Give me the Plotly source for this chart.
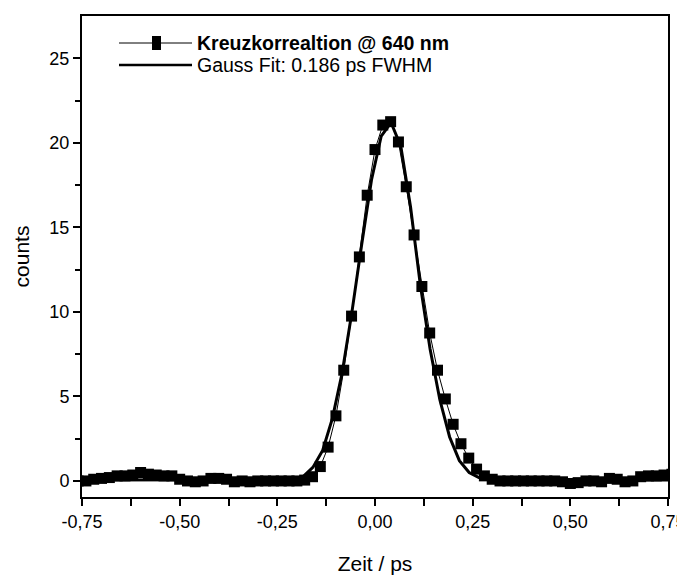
import plotly.graph_objects as go

# ---------------- data ----------------
x_data = [-0.76, -0.74, -0.72, -0.70, -0.68, -0.66, -0.64, -0.62, -0.60, -0.58,
          -0.56, -0.54, -0.52, -0.50, -0.48, -0.46, -0.44, -0.42, -0.40, -0.38,
          -0.36, -0.34, -0.32, -0.30, -0.28, -0.26, -0.24, -0.22, -0.20, -0.18,
          -0.16, -0.14, -0.12, -0.10, -0.08, -0.06, -0.04, -0.02, 0.00, 0.02,
          0.04, 0.06, 0.08, 0.10, 0.12, 0.14, 0.16, 0.18, 0.20, 0.22,
          0.24, 0.26, 0.28, 0.30, 0.32, 0.34, 0.36, 0.38, 0.40, 0.42,
          0.44, 0.46, 0.48, 0.50, 0.52, 0.54, 0.56, 0.58, 0.60, 0.62,
          0.64, 0.66, 0.68, 0.70, 0.72, 0.74, 0.76]
y_data = [0.0, 0.0, 0.1, 0.15, 0.2, 0.3, 0.3, 0.35, 0.5, 0.4,
          0.35, 0.3, 0.3, 0.1, 0.0, -0.05, 0.0, 0.15, 0.15, 0.1,
          -0.05, 0.0, -0.05, 0.0, 0.0, 0.0, 0.0, 0.0, 0.0, 0.05,
          0.25, 0.85, 2.0, 3.85, 6.55, 9.75, 13.25, 16.9, 19.6, 21.05,
          21.25, 20.05, 17.4, 14.55, 11.5, 8.75, 6.55, 4.85, 3.35, 2.2,
          1.35, 0.7, 0.3, 0.1, 0.0, 0.0, 0.0, 0.0, 0.0, 0.0,
          0.0, 0.0, -0.05, -0.15, -0.1, 0.0, 0.0, -0.05, 0.15, 0.1,
          -0.05, 0.0, 0.25, 0.3, 0.3, 0.35, 0.4]

x_fit = [-0.76, -0.209, -0.184, -0.159, -0.134, -0.109, -0.084, -0.059, -0.034, -0.009,
         0.016, 0.041, 0.066, 0.091, 0.116, 0.141, 0.166, 0.191, 0.216, 0.241,
         0.266, 0.291, 0.76]
y_fit = [0.05, 0.08, 0.25, 0.8, 1.8, 3.7, 6.4, 10.0, 14.0, 17.8,
         20.4, 21.2, 19.8, 16.2, 11.6, 7.8, 4.8, 2.6, 1.2, 0.5,
         0.2, 0.08, 0.05]

x_tickvals = [-0.75, -0.50, -0.25, 0.00, 0.25, 0.50, 0.75]
x_ticktext = ["-0,75", "-0,50", "-0,25", "0,00", "0,25", "0,50", "0,75"]
x_minor = [-0.625, -0.375, -0.125, 0.125, 0.375, 0.625]
x_all = [-0.75, -0.625, -0.50, -0.375, -0.25, -0.125, 0.0, 0.125, 0.25, 0.375, 0.50, 0.625, 0.75]
y_tickvals = [0, 5, 10, 15, 20, 25]
y_minor = [2.5, 7.5, 12.5, 17.5, 22.5]
y_all = [0, 2.5, 5, 7.5, 10, 12.5, 15, 17.5, 20, 22.5, 25]

legend_labels = ["<b>Kreuzkorrealtion @ 640 nm</b>", "Gauss Fit: 0.186 ps FWHM"]

# ---------------- layout helpers ----------------
OFF = 8  # page body margin
W, H = 685 - OFF, 575 - OFF
ML, MR, MT, MB = 74, 17, 8, 78
PW, PH = W - ML - MR, H - MT - MB


def px(xp):
    return (xp - OFF - ML) / PW


def py(yp):
    return (H - MB - (yp - OFF)) / PH


FONT = "Liberation Sans, Arial, sans-serif"
XR = [-0.75, 0.75]
YR = [-0.95, 27.5]

fig = go.Figure()
fig.add_trace(go.Scatter(
    x=x_data, y=y_data, mode="lines+markers",
    line=dict(color="black", width=1),
    marker=dict(symbol="square", size=11, color="black"),
    showlegend=False,
))
fig.add_trace(go.Scatter(
    x=x_fit, y=y_fit, mode="lines",
    line=dict(color="black", width=3),
    showlegend=False,
))

# manual legend (decoration)
rows = [43, 65]
lx0, lx1, tx = 119, 192, 195
shapes = []
annotations = []
shapes.append(dict(type="line", xref="paper", yref="paper",
                   x0=px(lx0), x1=px(lx1), y0=py(rows[0]), y1=py(rows[0]),
                   line=dict(color="black", width=1)))
shapes.append(dict(type="rect", xref="paper", yref="paper",
                   x0=px(152), x1=px(161), y0=py(rows[0] + 7), y1=py(rows[0] - 7),
                   fillcolor="black", line=dict(width=0)))
shapes.append(dict(type="line", xref="paper", yref="paper",
                   x0=px(lx0), x1=px(lx1), y0=py(rows[1]), y1=py(rows[1]),
                   line=dict(color="black", width=2.5)))
for r, lab in zip(rows, legend_labels):
    annotations.append(dict(xref="paper", yref="paper", x=px(tx), y=py(r),
                            text=lab, showarrow=False, xanchor="left", yanchor="middle",
                            font=dict(family=FONT, size=19.5, color="black")))

fig.update_layout(
    width=W, height=H,
    margin=dict(l=ML, r=MR, t=MT, b=MB, autoexpand=False),
    paper_bgcolor="white", plot_bgcolor="white",
    font=dict(family=FONT, size=18, color="black"),
    shapes=shapes, annotations=annotations,
    xaxis=dict(range=XR, tickmode="array", tickvals=x_tickvals, ticktext=x_ticktext,
               ticks="outside", ticklen=7, tickwidth=2, tickcolor="black",
               ticklabeloverflow="allow", automargin=False,
               minor=dict(tickmode="array", tickvals=x_minor, ticks="outside",
                          ticklen=7, tickwidth=2, tickcolor="black"),
               showline=True, linewidth=2, linecolor="black", mirror=True,
               showgrid=False, zeroline=False,
               tickfont=dict(family=FONT, size=18),
               title=dict(text="Zeit / ps", font=dict(family=FONT, size=21), standoff=26)),
    yaxis=dict(range=YR, tickmode="array", tickvals=y_tickvals,
               ticks="outside", ticklen=7, tickwidth=2, tickcolor="black",
               automargin=False,
               minor=dict(tickmode="array", tickvals=y_minor, ticks="outside",
                          ticklen=5, tickwidth=2, tickcolor="black"),
               showline=True, linewidth=2, linecolor="black", mirror=True,
               showgrid=False, zeroline=False,
               tickfont=dict(family=FONT, size=18),
               title=dict(text="counts", font=dict(family=FONT, size=21), standoff=14)),
    xaxis2=dict(range=XR, overlaying="x", side="top", anchor="y", automargin=False,
                tickmode="array", tickvals=x_all, ticks="inside", ticklen=6,
                tickwidth=2, tickcolor="black", showticklabels=False,
                showgrid=False, zeroline=False, showline=False),
    yaxis2=dict(range=YR, overlaying="y", side="right", anchor="x", automargin=False,
                tickmode="array", tickvals=y_all, ticks="inside", ticklen=6,
                tickwidth=2, tickcolor="black", showticklabels=False,
                showgrid=False, zeroline=False, showline=False),
)

fig.write_html("out.html")
